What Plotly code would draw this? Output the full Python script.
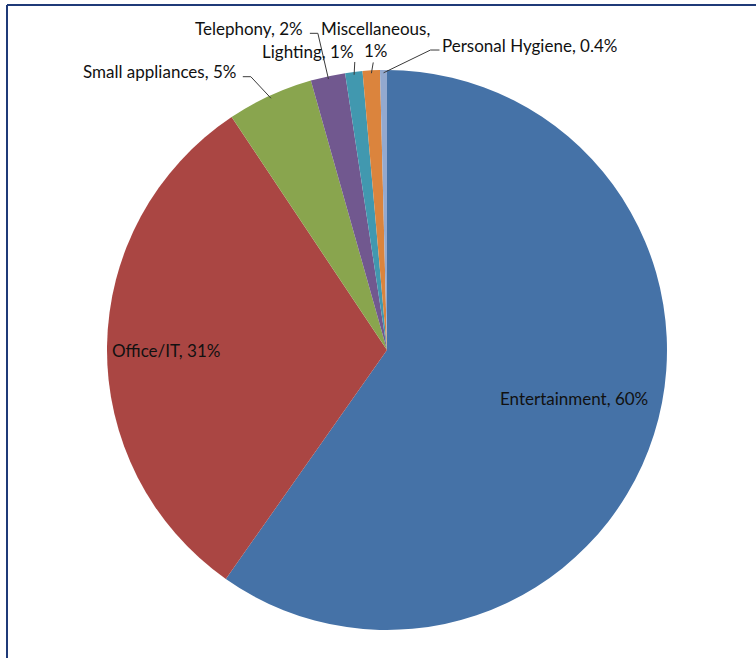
import math
import plotly.graph_objects as go

# ---- data ----
categories = ["Entertainment", "Office/IT", "Small appliances", "Telephony",
              "Lighting", "Miscellaneous", "Personal Hygiene"]
shares = [60, 31, 5, 2, 1, 1, 0.4]
share_text = ["60%", "31%", "5%", "2%", "1%", "1%", "0.4%"]

# ---- styles / layout ----
colors = ["#4572A7", "#AA4643", "#89A54E", "#71588F", "#4198AF", "#DB843D", "#93A9CF"]
W, H = 756, 658
CX, CY, R = 387, 350, 280
FONT = dict(family="Lato, Carlito, Calibri, sans-serif", size=17, color="#111111")

# label placement (pixel offsets relative to slice anchor)
inside_cfg = {
    "Entertainment": dict(rf=0.69, dx=3, dy=-10),
    "Office/IT": dict(rf=0.79, dx=0, dy=3),
}
outside_cfg = {
    "Small appliances": dict(tx=-32, ty=-24, xa="right", path=[(-27, -19), (-19, -19)]),
    "Telephony": dict(tx=-23, ty=-48, xa="right", path=[(-18, -43), (-10, -43)]),
    "Lighting": dict(tx=-46, ty=-20, xa="center", path=[(1, -10)]),
    "Miscellaneous": dict(tx=4, ty=-31, xa="center", path=[(2, -8)], br=True),
    "Personal Hygiene": dict(tx=57, ty=-25, xa="left", path=[(56, -20), (47, -20)]),
}


def px(x):
    return x / W


def py(y):
    return 1 - y / H


fig = go.Figure(go.Pie(
    labels=categories, values=shares, sort=False, direction="clockwise",
    rotation=0, textinfo="none", hoverinfo="label+percent",
    marker=dict(colors=colors, line=dict(width=0)),
    domain=dict(x=[px(CX - R), px(CX + R)], y=[py(CY + R), py(CY - R)]),
    showlegend=False,
))

total = sum(shares)
annotations = []
shapes = []
cum = 0.0
for name, v, t in zip(categories, shares, share_text):
    mid = (cum + v / 2) / total * 2 * math.pi
    cum += v
    s, c = math.sin(mid), math.cos(mid)
    if name in inside_cfg:
        cfg = inside_cfg[name]
        x = CX + cfg["rf"] * R * s + cfg["dx"]
        y = CY - cfg["rf"] * R * c + cfg["dy"]
        annotations.append(dict(x=px(x), y=py(y), xref="paper", yref="paper",
                                text=f"{name}, {t}", showarrow=False, font=FONT,
                                xanchor="center", yanchor="middle"))
    else:
        cfg = outside_cfg[name]
        ax, ay = CX + R * s, CY - R * c
        ex, ey = CX + 0.99 * R * s, CY - 0.99 * R * c
        label = f"{name},<br>{t}" if cfg.get("br") else f"{name}, {t}"
        annotations.append(dict(x=px(ax + cfg["tx"]), y=py(ay + cfg["ty"]),
                                xref="paper", yref="paper", text=label,
                                showarrow=False, font=FONT, xanchor=cfg["xa"],
                                yanchor="middle"))
        pts = [(ax + dx, ay + dy) for dx, dy in cfg["path"]] + [(ex, ey)]
        d = "M " + " L ".join(f"{px(a):.5f},{py(b):.5f}" for a, b in pts)
        shapes.append(dict(type="path", xref="paper", yref="paper", path=d,
                           line=dict(color="#3a3a3a", width=1)))

# chart frame (top and left edges visible)
frame = dict(color="#1F3A78", width=2)
shapes.append(dict(type="line", xref="paper", yref="paper",
                   x0=px(7), x1=1.0, y0=py(5), y1=py(5), line=frame))
shapes.append(dict(type="line", xref="paper", yref="paper",
                   x0=px(7), x1=px(7), y0=py(5), y1=0.0, line=frame))

fig.update_layout(width=W, height=H, margin=dict(l=0, r=0, t=0, b=0),
                  paper_bgcolor="white", plot_bgcolor="white",
                  annotations=annotations, shapes=shapes)

fig.write_html("out.html")
